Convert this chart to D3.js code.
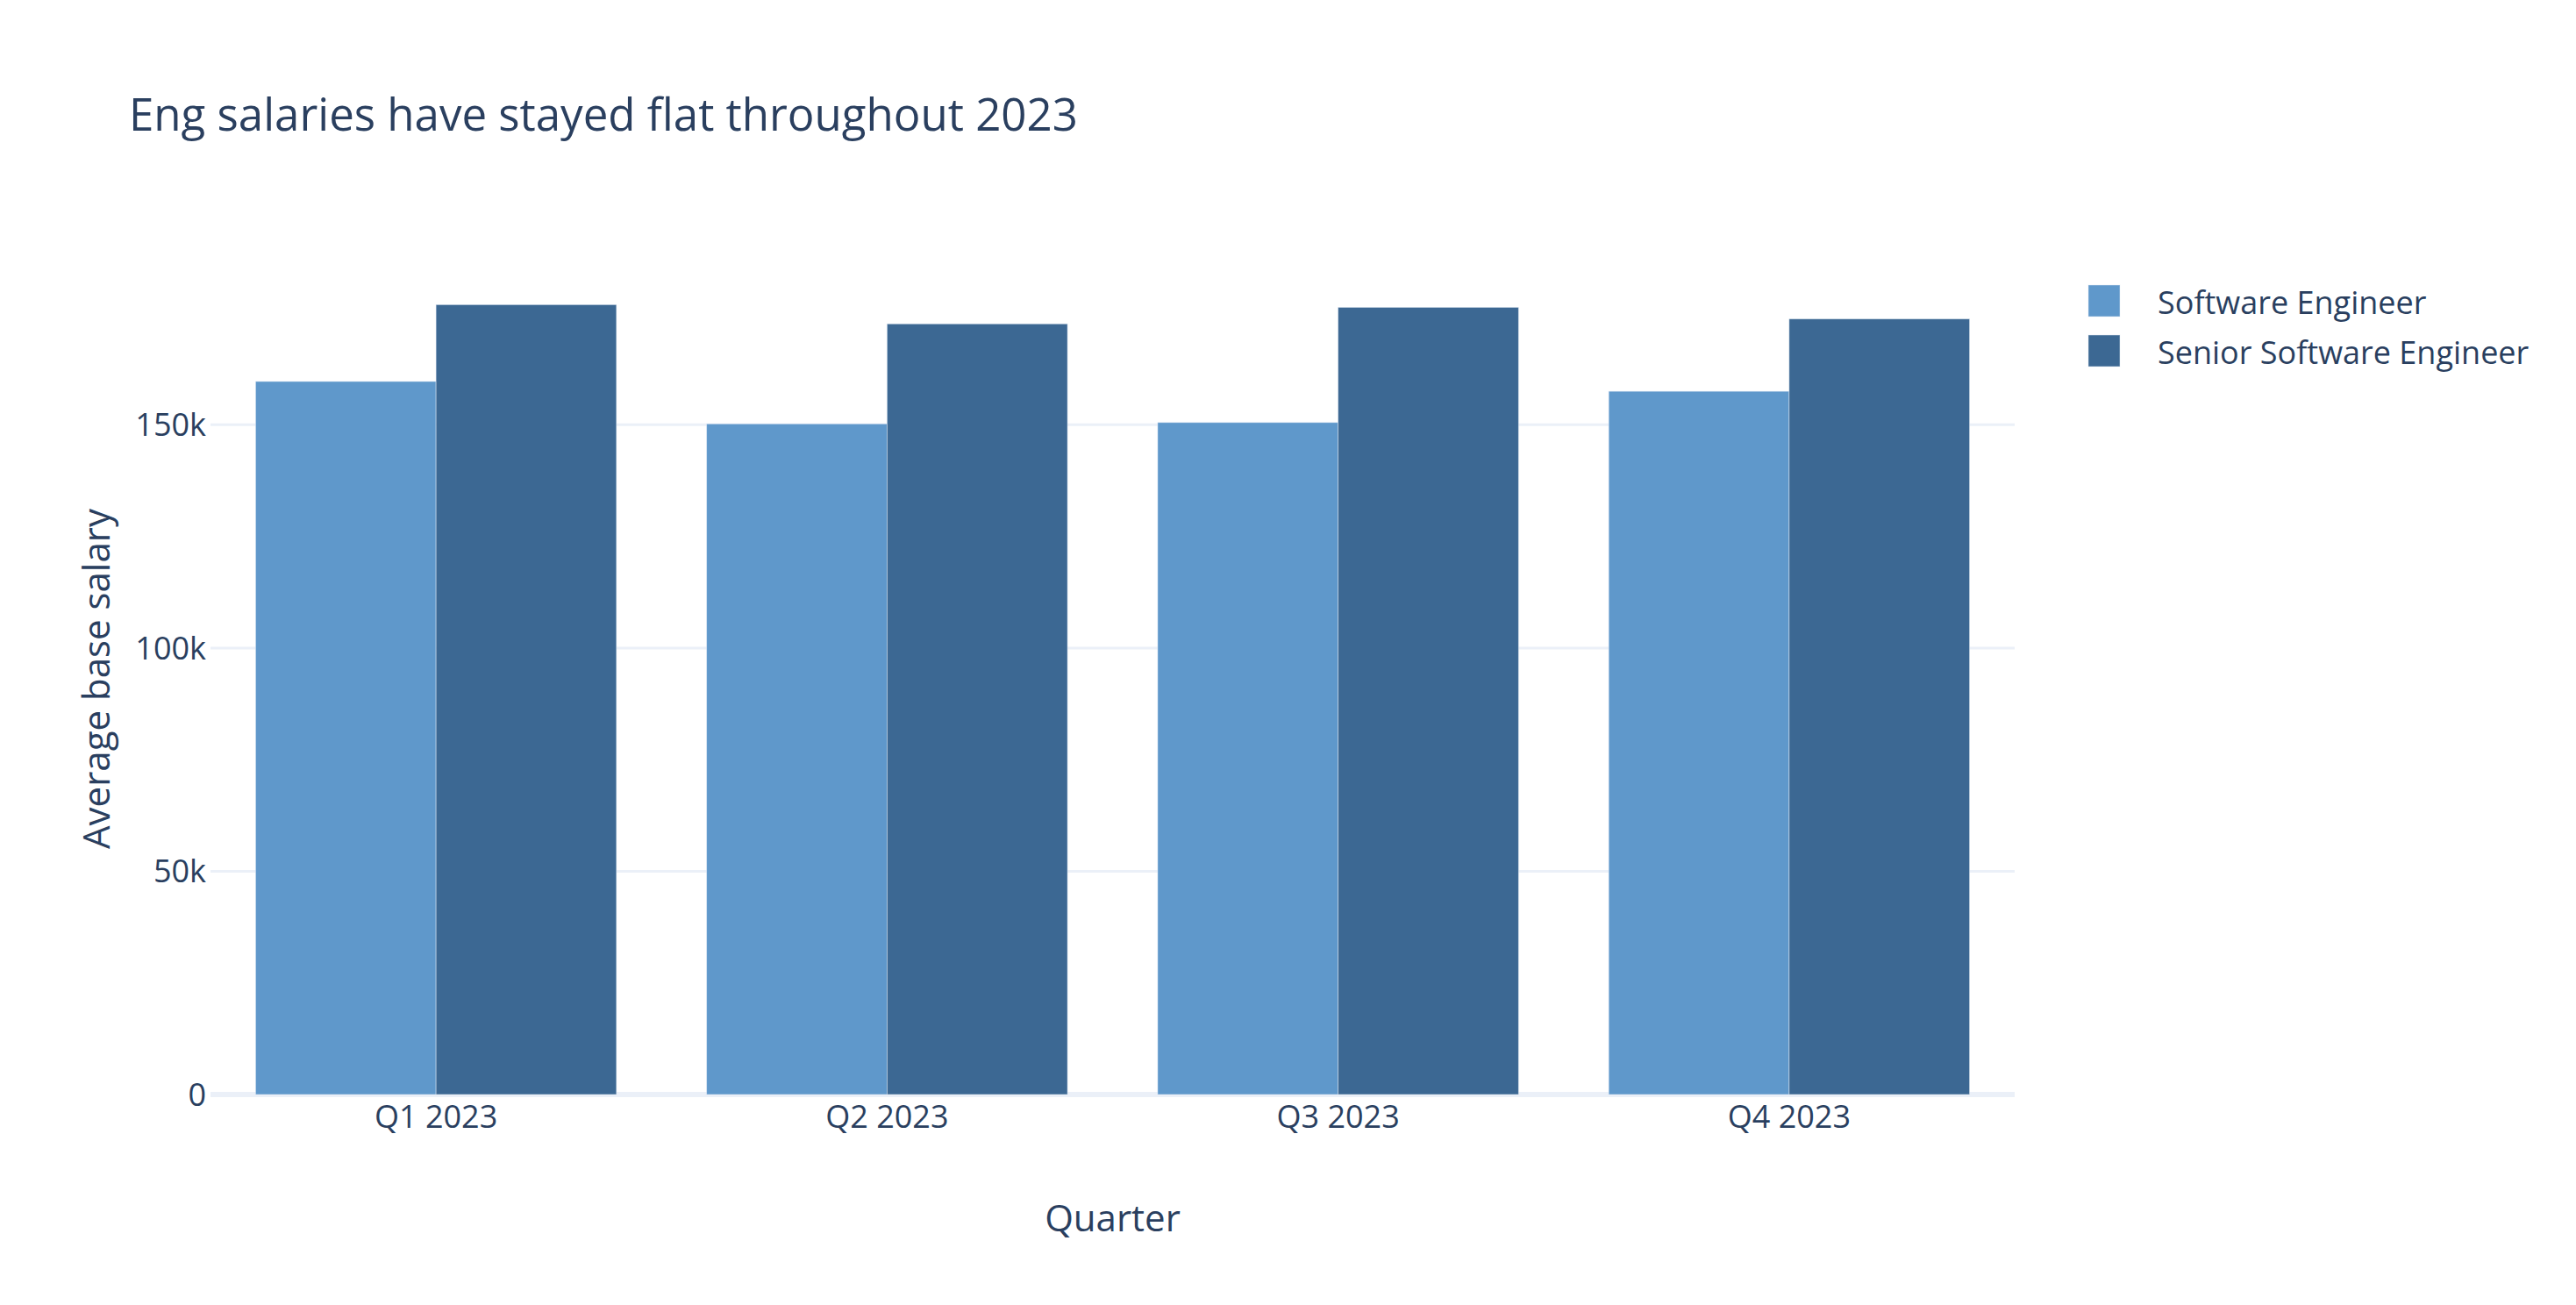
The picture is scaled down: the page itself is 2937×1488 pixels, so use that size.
<!DOCTYPE html>
<html>
<head>
<meta charset="utf-8">
<script src="https://cdn.jsdelivr.net/npm/d3@7"></script>
<style>
  html, body { margin: 0; padding: 0; background: #ffffff; }
  svg { display: block; }
  text { font-family: "Open Sans", "Noto Sans", sans-serif; fill: #2a3f5f; }
</style>
</head>
<body>
<div id="chart"></div>
<script>
// ---- data ----
const quarters = ["Q1 2023", "Q2 2023", "Q3 2023", "Q4 2023"];
const seriesNames = ["Software Engineer", "Senior Software Engineer"];
const softwareEngineer = [159700, 150200, 150500, 157500];
const seniorSoftwareEngineer = [176900, 172600, 176300, 173700];
const yTickValues = [0, 50000, 100000, 150000];
const yTickLabels = ["0", "50k", "100k", "150k"];
const titleText = "Eng salaries have stayed flat throughout 2023";
const xTitle = "Quarter";
const yTitle = "Average base salary";
const colors = ["#5f98cb", "#3c6893"];

// ---- layout ----
const W = 2937, H = 1488;
const plot = { left: 240, right: 2297, top: 300, bottom: 1248 };

const svg = d3.select("#chart").append("svg")
  .attr("width", W).attr("height", H)
  .attr("viewBox", `0 0 ${W} ${H}`);

const x = d3.scaleBand()
  .domain(quarters)
  .range([plot.left, plot.right])
  .paddingInner(0.2)
  .paddingOuter(0.1);

const xInner = d3.scaleBand()
  .domain(seriesNames)
  .range([0, x.bandwidth()])
  .padding(0);

const yMax = d3.max(seniorSoftwareEngineer.concat(softwareEngineer)) / 0.95;
const y = d3.scaleLinear()
  .domain([0, yMax])
  .range([plot.bottom, plot.top]);

// grid lines
svg.append("g").selectAll("line.grid")
  .data(yTickValues.filter(v => v !== 0))
  .join("line")
  .attr("x1", plot.left).attr("x2", plot.right)
  .attr("y1", d => y(d)).attr("y2", d => y(d))
  .attr("stroke", "#EBF0F8").attr("stroke-width", 3);

// zero line
svg.append("line")
  .attr("x1", plot.left).attr("x2", plot.right)
  .attr("y1", y(0)).attr("y2", y(0))
  .attr("stroke", "#EBF0F8").attr("stroke-width", 6);

// bars
const rows = quarters.map((q, i) => ({
  q, values: [softwareEngineer[i], seniorSoftwareEngineer[i]]
}));

const groups = svg.append("g").selectAll("g.grp")
  .data(rows).join("g")
  .attr("transform", d => `translate(${x(d.q)},0)`);

groups.selectAll("rect")
  .data(d => d.values.map((v, k) => ({ name: seriesNames[k], v, k })))
  .join("rect")
  .attr("x", d => xInner(d.name))
  .attr("width", xInner.bandwidth())
  .attr("y", d => y(d.v))
  .attr("height", d => y(0) - y(d.v))
  .attr("fill", d => colors[d.k])
  .attr("stroke", "#E5ECF6")
  .attr("stroke-opacity", 0.6)
  .attr("stroke-width", 0.8);

// y axis (labels only)
const yAxis = d3.axisLeft(y)
  .tickValues(yTickValues)
  .tickFormat((d, i) => yTickLabels[i])
  .tickSize(0)
  .tickPadding(5);
const gy = svg.append("g")
  .attr("transform", `translate(${plot.left},0)`)
  .call(yAxis);
gy.select(".domain").remove();
gy.selectAll("text")
  .attr("font-size", 36)
  .attr("dy", "0.34em")
  .style("font-family", '"Open Sans", sans-serif')
  .attr("fill", "#2a3f5f");

// x axis (labels only)
const xAxis = d3.axisBottom(x).tickSize(0).tickPadding(12);
const gx = svg.append("g")
  .attr("transform", `translate(0,${plot.bottom})`)
  .call(xAxis);
gx.select(".domain").remove();
gx.selectAll("text")
  .attr("font-size", 36)
  .style("font-family", '"Open Sans", sans-serif')
  .attr("fill", "#2a3f5f");

// title
svg.append("text")
  .attr("x", 147).attr("y", 149)
  .attr("font-size", 51)
  .text(titleText);

// axis titles
svg.append("text")
  .attr("x", (plot.left + plot.right) / 2).attr("y", 1404)
  .attr("text-anchor", "middle")
  .attr("font-size", 42)
  .text(xTitle);

svg.append("text")
  .attr("transform", `translate(125,${(plot.top + plot.bottom) / 2}) rotate(-90)`)
  .attr("text-anchor", "middle")
  .attr("font-size", 42)
  .text(yTitle);

// legend
const legend = svg.append("g").attr("transform", "translate(2381,325)");
const li = legend.selectAll("g").data(seriesNames).join("g")
  .attr("transform", (d, i) => `translate(0,${i * 57})`);
li.append("rect")
  .attr("width", 36).attr("height", 36)
  .attr("fill", (d, i) => colors[i])
  .attr("stroke", "#E5ECF6").attr("stroke-opacity", 0.6).attr("stroke-width", 0.8);
li.append("text")
  .attr("x", 79).attr("y", 33)
  .attr("font-size", 36)
  .text(d => d);
</script>
</body>
</html>
